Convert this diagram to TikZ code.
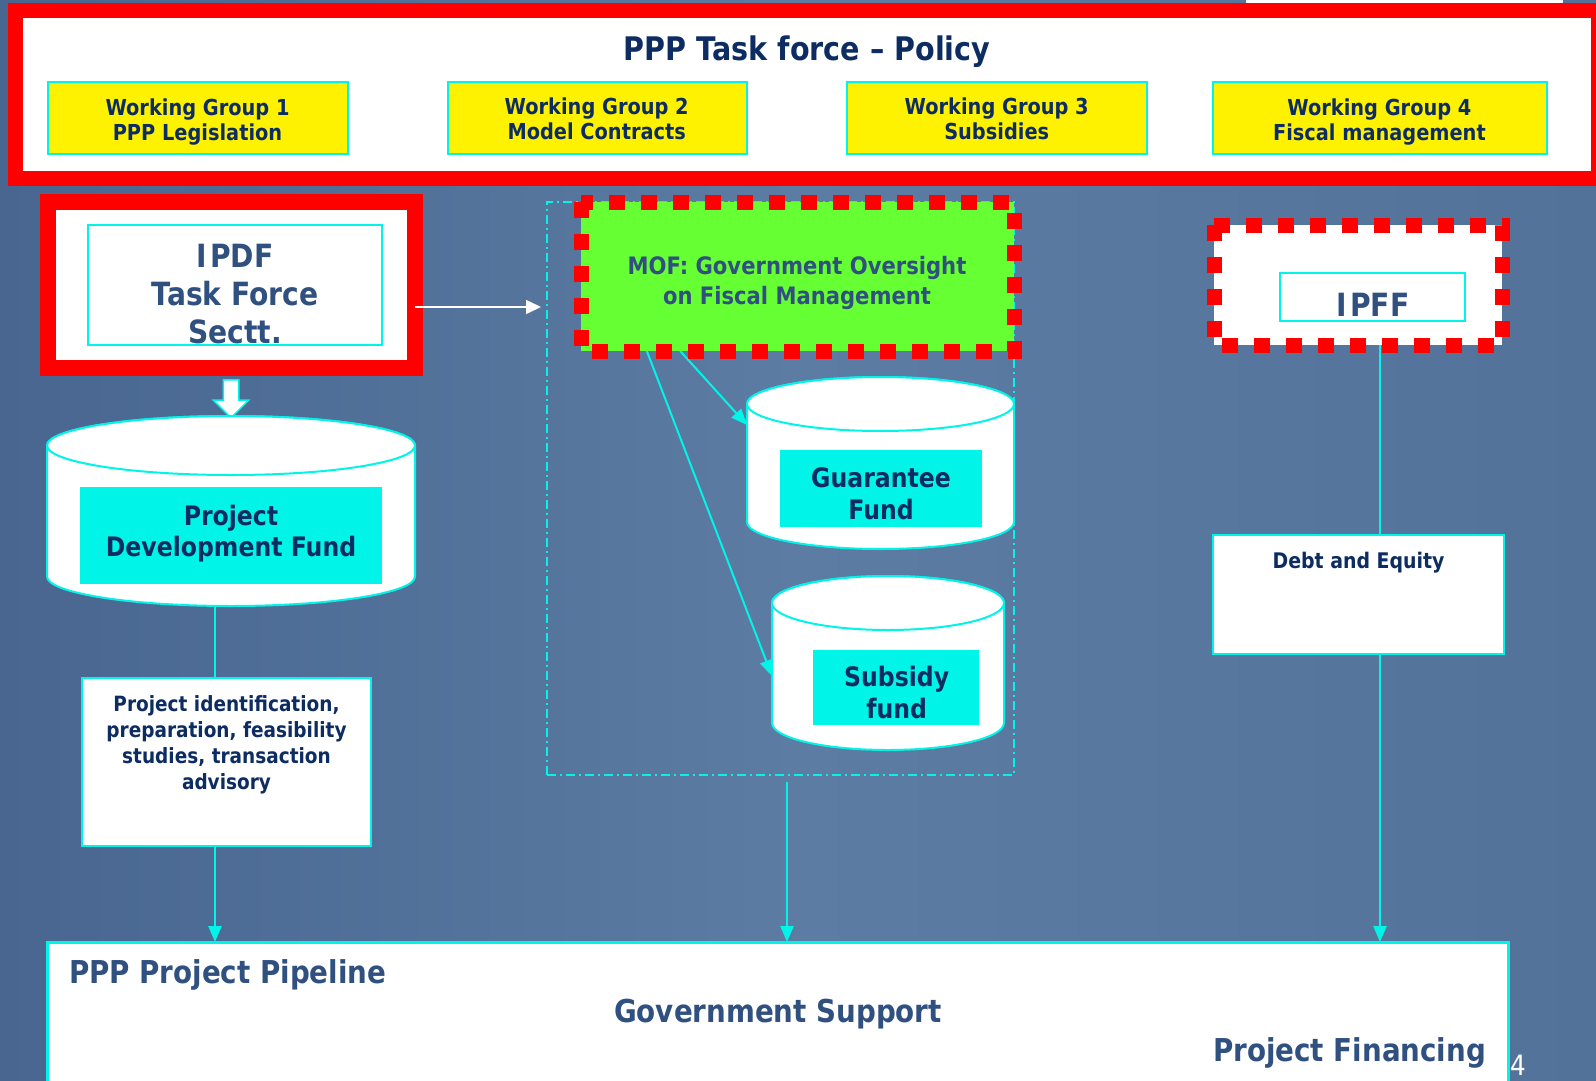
\documentclass[tikz,border=0pt]{standalone}
\usepackage{fontspec}
\newfontfamily\tfont[FakeStretch=0.88]{DejaVu Sans}
\usetikzlibrary{arrows.meta,shapes.arrows,calc}
\definecolor{cy}{RGB}{0,245,232}
\definecolor{navy}{RGB}{12,44,98}
\definecolor{slate}{RGB}{48,80,128}
\definecolor{grn}{RGB}{102,255,51}
\definecolor{bgL}{RGB}{72,102,144}
\definecolor{bgM}{RGB}{92,124,163}
\definecolor{bgR}{RGB}{82,114,154}
\newcommand\myfs[2]{\tfont\bfseries\fontsize{#1}{#2}\selectfont}
\newcommand\mycyl[3]{%
 \path[fill=white,draw=cy,line width=2pt] (#1.north west) -- (#1.south west)
   arc[start angle=180,end angle=0,x radius=#2,y radius=#3] -- (#1.north east)
   arc[start angle=0,end angle=-180,x radius=#2,y radius=#3] -- cycle;
 \draw[fill=white,draw=cy,line width=2pt] (#1.north) ellipse[x radius=#2,y radius=#3];}
\pgfdeclarelayer{back}
\pgfdeclarelayer{wires}
\pgfsetlayers{back,wires,main}
\tikzset{
 every node/.style={inner sep=0pt,outer sep=0pt},
 navytxt/.style={text=navy,align=center},
 slatetxt/.style={text=slate,align=center},
 cybox/.style={draw=cy,line width=2pt},
 wgbox/.style={cybox,fill=yellow,minimum height=72pt},
 whitebox/.style={cybox,fill=white},
 cyfill/.style={fill=cy},
 reddash/.style={draw=red,line width=15pt,dash pattern=on 16pt off 16pt},
 conn/.style={draw=cy,line width=2.5pt},
 arr/.style={conn,-{Triangle[length=16pt,width=13pt]}},
}
\begin{document}
\begin{tikzpicture}[x=1pt,y=-1pt]
\useasboundingbox (0,0) rectangle (1596,1081);
\begin{pgfonlayer}{back}
\shade[left color=bgL,right color=bgR,middle color=bgM] (0,0) rectangle (1596,1081);
\fill[white] (1246,0) rectangle (1563,4);
\end{pgfonlayer}

% policy frame
\node[draw=red,fill=white,line width=15pt,minimum width=1583pt,minimum height=167.5pt] (policy) at (806.5,94.25) {};
\node[navytxt,font=\myfs{32.5}{36},anchor=base] (title) at (807,60) {PPP Task force – Policy};
\node[wgbox,minimum width=300pt] (wg1) at (198,118) {};
\node[wgbox,minimum width=299pt] (wg2) at (597.5,118) {};
\node[wgbox,minimum width=300pt] (wg3) at (997,118) {};
\node[wgbox,minimum width=334pt] (wg4) at (1380,118) {};
\node[navytxt,font=\myfs{22}{25}] (wg1t) at (197.5,121.8) {Working Group 1\\PPP Legislation};
\node[navytxt,font=\myfs{22}{25}] (wg2t) at (596.7,119.2) {Working Group 2\\Model Contracts};
\node[navytxt,font=\myfs{22}{25}] (wg3t) at (996.7,119.2) {Working Group 3\\Subsidies};
\node[navytxt,font=\myfs{22}{25}] (wg4t) at (1379.4,121.8) {Working Group 4\\Fiscal management};

% IPDF
\node[draw=red,fill=white,line width=16pt,minimum width=366.5pt,minimum height=166pt] (ipdf) at (231.25,285) {};
\node[cybox,minimum width=294pt,minimum height=120pt] (ipdfin) at (235,285) {};
\node[slatetxt,font=\myfs{32}{38}] (ipdft) at (235,294.4) {I\kern3pt PDF\\Task Force\\Sectt.};
\node[single arrow,draw=cy,fill=white,line width=1.5pt,minimum height=38pt,single arrow head extend=10pt,inner sep=7pt,shape border rotate=270] (down) at (231,395) {};

% PDF cylinder
\node[minimum width=368pt,minimum height=131pt] (pdfcyl) at (231,511) {};
\mycyl{pdfcyl}{184}{29.5}
\node[cyfill,minimum width=302pt,minimum height=97pt] (pdfin) at (231,535.5) {};
\node[navytxt,font=\myfs{26.8}{31}] (pdft) at (231,534) {Project\\Development Fund};

% project identification
\node[whitebox,minimum width=289pt,minimum height=168pt] (projid) at (226.5,762) {};
\node[navytxt,font=\myfs{21}{26}] (projidt) at (226.5,744.5) {Project identification,\\preparation, feasibility\\studies, transaction\\advisory};

% government group
\node[draw=cy,line width=1.5pt,dash pattern=on 9pt off 4pt on 2pt off 4pt,minimum width=467pt,minimum height=573pt] (gov) at (780.5,488.5) {};

% MOF
\node[fill=grn,minimum width=433pt,minimum height=149pt] (mof) at (797.5,276.5) {};
\draw[reddash] (mof.north west) rectangle (mof.south east);
\node[slatetxt,font=\myfs{24}{29.5}] (moft) at (797,283) {MOF: Government Oversight\\on Fiscal Management};

% Guarantee
\node[minimum width=267pt,minimum height=118pt] (gcyl) at (880.5,463) {};
\mycyl{gcyl}{133.5}{27}
\node[cyfill,minimum width=202pt,minimum height=77pt] (gin) at (881,488.5) {};
\node[navytxt,font=\myfs{26.8}{32}] (gt) at (881,494.2) {Guarantee\\Fund};

% Subsidy
\node[minimum width=232pt,minimum height=120pt] (scyl) at (888,663) {};
\mycyl{scyl}{116}{27}
\node[cyfill,minimum width=166pt,minimum height=75pt] (sin) at (896,687.5) {};
\node[navytxt,font=\myfs{26.8}{32}] (st) at (896.7,692.8) {Subsidy\\fund};

% IPFF
\node[fill=white,minimum width=288pt,minimum height=120pt] (ipff) at (1358,285) {};
\draw[reddash] (ipff.north west) rectangle (ipff.south east);
\node[cybox,minimum width=185pt,minimum height=48pt] (ipffin) at (1372.5,297) {};
\node[slatetxt,font=\myfs{32}{38},anchor=base] (ipfft) at (1373,316.7) {I\kern3pt PFF};

% Debt
\node[whitebox,minimum width=291pt,minimum height=119pt] (debt) at (1358.5,594.5) {};
\node[navytxt,font=\myfs{21.5}{26},anchor=base] (debtt) at (1358.5,568) {Debt and Equity};

% Pipeline
\node[draw=cy,fill=white,line width=3pt,minimum width=1460.5pt,minimum height=160pt] (pipe) at (778,1022) {};
\node[slatetxt,font=\myfs{31.5}{36},anchor=base west] (pipet1) at (69,983) {PPP Project Pipeline};
\node[slatetxt,font=\myfs{31.5}{36},anchor=base] (pipet2) at (778,1022) {Government Support};
\node[slatetxt,font=\myfs{31.5}{36},anchor=base east] (pipet3) at (1486,1061) {Project Financing};
\node[text=white,font=\tfont\fontsize{28}{32}\selectfont,anchor=base west] (pgno) at (1510,1075) {4};

\begin{pgfonlayer}{wires}
\coordinate (a1) at ($(pdfcyl.south)+(-16,0)$);
\draw[conn] (a1) -- (a1 |- projid.north);
\coordinate (a2) at ($(projid.south)+(-11.5,0)$);
\draw[arr] (a2) -- (a2 |- pipe.north);
\coordinate (a3) at ($(gov.south)+(6.5,7)$);
\draw[arr] (a3) -- (a3 |- pipe.north);
\coordinate (a4) at ($(ipff.south)+(22,0)$);
\draw[conn] (a4) -- (a4 |- debt.north);
\coordinate (a5) at ($(debt.south)+(21.5,0)$);
\draw[arr] (a5) -- (a5 |- pipe.north);
\draw[arr,line width=2pt] ($(mof.south west)!0.229!(mof.south east)$) -- ($(gcyl.north west)+(0,21)$);
\draw[arr,line width=2pt] ($(mof.south west)!0.152!(mof.south east)$) -- ($(scyl.west)+(0,13)$);
\end{pgfonlayer}

\coordinate (w1) at ($(ipdf.east)+(0,22)$);
\draw[white,line width=1.5pt,-{Triangle[length=15pt,width=14pt]},shorten >=6pt] (w1) -- (w1 -| gov.west);
\end{tikzpicture}
\end{document}
